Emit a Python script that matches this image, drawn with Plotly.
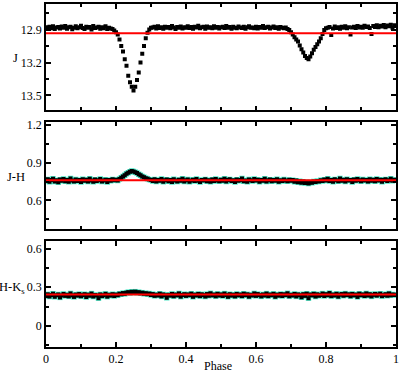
import plotly.graph_objects as go

# ---------------- data ----------------
phase = [
    0.000, 0.005, 0.010, 0.015, 0.020, 0.025, 0.030, 0.035, 0.040, 0.045,
    0.050, 0.055, 0.060, 0.065, 0.070, 0.075, 0.080, 0.085, 0.090, 0.095,
    0.100, 0.105, 0.110, 0.115, 0.120, 0.125, 0.130, 0.135, 0.140, 0.145,
    0.150, 0.155, 0.160, 0.165, 0.170, 0.175, 0.180, 0.185, 0.190, 0.195,
    0.200, 0.205, 0.210, 0.215, 0.220, 0.225, 0.230, 0.235, 0.240, 0.245,
    0.250, 0.255, 0.260, 0.265, 0.270, 0.275, 0.280, 0.285, 0.290, 0.295,
    0.300, 0.305, 0.310, 0.315, 0.320, 0.325, 0.330, 0.335, 0.340, 0.345,
    0.350, 0.355, 0.360, 0.365, 0.370, 0.375, 0.380, 0.385, 0.390, 0.395,
    0.400, 0.405, 0.410, 0.415, 0.420, 0.425, 0.430, 0.435, 0.440, 0.445,
    0.450, 0.455, 0.460, 0.465, 0.470, 0.475, 0.480, 0.485, 0.490, 0.495,
    0.500, 0.505, 0.510, 0.515, 0.520, 0.525, 0.530, 0.535, 0.540, 0.545,
    0.550, 0.555, 0.560, 0.565, 0.570, 0.575, 0.580, 0.585, 0.590, 0.595,
    0.600, 0.605, 0.610, 0.615, 0.620, 0.625, 0.630, 0.635, 0.640, 0.645,
    0.650, 0.655, 0.660, 0.665, 0.670, 0.675, 0.680, 0.685, 0.690, 0.695,
    0.700, 0.705, 0.710, 0.715, 0.720, 0.725, 0.730, 0.735, 0.740, 0.745,
    0.750, 0.755, 0.760, 0.765, 0.770, 0.775, 0.780, 0.785, 0.790, 0.795,
    0.800, 0.805, 0.810, 0.815, 0.820, 0.825, 0.830, 0.835, 0.840, 0.845,
    0.850, 0.855, 0.860, 0.865, 0.870, 0.875, 0.880, 0.885, 0.890, 0.895,
    0.900, 0.905, 0.910, 0.915, 0.920, 0.925, 0.930, 0.935, 0.940, 0.945,
    0.950, 0.955, 0.960, 0.965, 0.970, 0.975, 0.980, 0.985, 0.990, 0.995,
    1.000,
]

j_mag = [
    12.880, 12.892, 12.875, 12.888, 12.870, 12.895, 12.882, 12.878, 12.890, 12.872,
    12.885, 12.868, 12.893, 12.880, 12.876, 12.898, 12.884, 12.871, 12.889, 12.879,
    12.866, 12.887, 12.895, 12.874, 12.883, 12.878, 12.900, 12.869, 12.886, 12.881,
    12.874, 12.892, 12.879, 12.888, 12.870, 12.896, 12.883, 12.890, 12.895, 12.910,
    12.925, 12.945, 12.990, 13.050, 13.100, 13.170, 13.230, 13.320, 13.380, 13.420,
    13.455, 13.420, 13.360, 13.290, 13.200, 13.120, 13.050, 12.980, 12.930, 12.900,
    12.885, 12.882, 12.876, 12.890, 12.871, 12.886, 12.880, 12.893, 12.874, 12.884,
    12.878, 12.889, 12.868, 12.881, 12.895, 12.877, 12.885, 12.872, 12.890, 12.879,
    12.884, 12.870, 12.887, 12.878, 12.893, 12.875, 12.882, 12.866, 12.889, 12.880,
    12.876, 12.892, 12.873, 12.885, 12.879, 12.888, 12.870, 12.883, 12.877, 12.891,
    12.880, 12.874, 12.887, 12.869, 12.884, 12.878, 12.892, 12.875, 12.883, 12.889,
    12.872, 12.881, 12.886, 12.876, 12.893, 12.879, 12.870, 12.885, 12.882, 12.888,
    12.875, 12.891, 12.878, 12.884, 12.869, 12.887, 12.880, 12.876, 12.890, 12.882,
    12.873, 12.886, 12.879, 12.892, 12.877, 12.884, 12.888, 12.881, 12.895, 12.905,
    12.925, 12.945, 12.970, 12.990, 13.010, 13.045, 13.080, 13.110, 13.140, 13.160,
    13.170, 13.145, 13.115, 13.085, 13.060, 13.035, 13.010, 12.980, 12.940, 12.905,
    12.888, 12.884, 12.878, 12.950, 12.890, 12.873, 12.886, 12.880, 12.893, 12.876,
    12.884, 12.870, 12.889, 12.879, 12.945, 12.882, 12.874, 12.887, 12.868, 12.881,
    12.876, 12.884, 12.866, 12.878, 12.872, 12.886, 12.940, 12.869, 12.877, 12.862,
    12.880, 12.866, 12.873, 12.858, 12.879, 12.864, 12.870, 12.856, 12.885, 12.862,
    12.868,
]

j_h = [
    0.755, 0.768, 0.748, 0.762, 0.772, 0.751, 0.760, 0.745, 0.766, 0.757,
    0.770, 0.752, 0.763, 0.748, 0.775, 0.758, 0.750, 0.767, 0.755, 0.762,
    0.746, 0.769, 0.757, 0.764, 0.751, 0.773, 0.759, 0.748, 0.766, 0.754,
    0.761, 0.771, 0.750, 0.758, 0.765, 0.747, 0.762, 0.756, 0.768, 0.760,
    0.764, 0.759, 0.770, 0.780, 0.790, 0.800, 0.812, 0.820, 0.828, 0.834,
    0.830, 0.825, 0.818, 0.808, 0.800, 0.790, 0.784, 0.776, 0.772, 0.766,
    0.762, 0.754, 0.768, 0.750, 0.763, 0.757, 0.771, 0.749, 0.760, 0.766,
    0.753, 0.762, 0.747, 0.769, 0.758, 0.751, 0.764, 0.756, 0.772, 0.750,
    0.761, 0.767, 0.748, 0.759, 0.765, 0.754, 0.770, 0.757, 0.746, 0.763,
    0.758, 0.768, 0.752, 0.761, 0.749, 0.766, 0.755, 0.771, 0.759, 0.752,
    0.764, 0.757, 0.773, 0.750, 0.762, 0.768, 0.754, 0.760, 0.747, 0.766,
    0.756, 0.763, 0.775, 0.752, 0.759, 0.748, 0.767, 0.761, 0.754, 0.770,
    0.758, 0.765, 0.749, 0.762, 0.756, 0.772, 0.751, 0.760, 0.766, 0.753,
    0.763, 0.757, 0.769, 0.748, 0.761, 0.755, 0.767, 0.758, 0.752, 0.764,
    0.756, 0.762, 0.749, 0.758, 0.745, 0.753, 0.741, 0.750, 0.738, 0.746,
    0.735, 0.744, 0.740, 0.751, 0.746, 0.755, 0.750, 0.761, 0.754, 0.766,
    0.758, 0.772, 0.755, 0.763, 0.749, 0.768, 0.760, 0.753, 0.774, 0.757,
    0.764, 0.751, 0.769, 0.758, 0.762, 0.747, 0.766, 0.756, 0.771, 0.760,
    0.753, 0.767, 0.758, 0.763, 0.750, 0.769, 0.757, 0.764, 0.752, 0.770,
    0.759, 0.765, 0.748, 0.762, 0.768, 0.755, 0.761, 0.773, 0.757, 0.764,
    0.760,
]

h_ks = [
    0.232, 0.245, 0.228, 0.240, 0.250, 0.226, 0.238, 0.244, 0.221, 0.236,
    0.248, 0.233, 0.241, 0.229, 0.252, 0.237, 0.225, 0.243, 0.235, 0.247,
    0.230, 0.239, 0.246, 0.224, 0.242, 0.234, 0.251, 0.228, 0.240, 0.236,
    0.215, 0.244, 0.231, 0.238, 0.249, 0.227, 0.241, 0.235, 0.246, 0.232,
    0.243, 0.238, 0.250, 0.245, 0.255, 0.248, 0.258, 0.262, 0.255, 0.265,
    0.260, 0.266, 0.257, 0.262, 0.253, 0.258, 0.249, 0.254, 0.246, 0.251,
    0.240, 0.247, 0.233, 0.242, 0.236, 0.250, 0.229, 0.244, 0.238, 0.218,
    0.241, 0.235, 0.248, 0.230, 0.243, 0.237, 0.252, 0.227, 0.240, 0.246,
    0.233, 0.244, 0.238, 0.250, 0.226, 0.242, 0.236, 0.248, 0.231, 0.245,
    0.239, 0.228, 0.247, 0.234, 0.253, 0.237, 0.243, 0.230, 0.249, 0.236,
    0.244, 0.232, 0.251, 0.239, 0.226, 0.246, 0.235, 0.242, 0.229, 0.248,
    0.237, 0.243, 0.231, 0.250, 0.238, 0.245, 0.227, 0.241, 0.236, 0.252,
    0.233, 0.247, 0.239, 0.229, 0.244, 0.236, 0.251, 0.231, 0.243, 0.238,
    0.249, 0.226, 0.242, 0.235, 0.247, 0.232, 0.245, 0.239, 0.253, 0.230,
    0.241, 0.236, 0.248, 0.229, 0.244, 0.238, 0.222, 0.246, 0.233, 0.250,
    0.215, 0.243, 0.237, 0.249, 0.228, 0.245, 0.234, 0.240, 0.251, 0.232,
    0.246, 0.238, 0.255, 0.231, 0.243, 0.236, 0.249, 0.227, 0.242, 0.247,
    0.234, 0.251, 0.239, 0.245, 0.230, 0.248, 0.237, 0.243, 0.225, 0.250,
    0.238, 0.244, 0.232, 0.252, 0.236, 0.246, 0.229, 0.241, 0.248, 0.235,
    0.243, 0.250, 0.231, 0.239, 0.246, 0.234, 0.252, 0.237, 0.244, 0.240,
    0.241,
]

ref_x = [0, 1]
j_ref = 12.935
jh_ref = 0.760
hk_ref = 0.244

x_ticks = [0, 0.2, 0.4, 0.6, 0.8, 1]
x_tick_labels = ["0", "0.2", "0.4", "0.6", "0.8", "1"]
j_ticks = [12.9, 13.2, 13.5]
jh_ticks = [0.6, 0.9, 1.2]
hk_ticks = [0, 0.3, 0.6]

# ---------------- styles ----------------
FONT = "Times New Roman, Liberation Serif, Times, serif"
CYAN = "#4de6c6"
RED = "#ff0000"

fig = go.Figure()

# J panel
fig.add_trace(go.Scatter(x=phase, y=j_mag, mode="markers", xaxis="x", yaxis="y",
                         marker=dict(symbol="square", size=4.0, color="black"),
                         showlegend=False, hoverinfo="skip"))
fig.add_trace(go.Scatter(x=ref_x, y=[j_ref, j_ref], mode="lines", xaxis="x", yaxis="y",
                         line=dict(color=RED, width=2), showlegend=False))

# J-H panel
fig.add_trace(go.Scatter(x=phase, y=j_h, mode="markers", xaxis="x2", yaxis="y2",
                         marker=dict(symbol="square", size=5.4, color=CYAN),
                         showlegend=False, hoverinfo="skip"))
fig.add_trace(go.Scatter(x=phase, y=j_h, mode="markers", xaxis="x2", yaxis="y2",
                         marker=dict(symbol="square", size=4.0, color="black"),
                         showlegend=False, hoverinfo="skip"))
fig.add_trace(go.Scatter(x=ref_x, y=[jh_ref, jh_ref], mode="lines", xaxis="x2", yaxis="y2",
                         line=dict(color=RED, width=2), showlegend=False))

# H-Ks panel
fig.add_trace(go.Scatter(x=phase, y=h_ks, mode="markers", xaxis="x3", yaxis="y3",
                         marker=dict(symbol="square", size=5.4, color=CYAN),
                         showlegend=False, hoverinfo="skip"))
fig.add_trace(go.Scatter(x=phase, y=h_ks, mode="markers", xaxis="x3", yaxis="y3",
                         marker=dict(symbol="square", size=4.0, color="black"),
                         showlegend=False, hoverinfo="skip"))
fig.add_trace(go.Scatter(x=ref_x, y=[hk_ref, hk_ref], mode="lines", xaxis="x3", yaxis="y3",
                         line=dict(color=RED, width=2), showlegend=False))

common_axis = dict(
    showline=True, linecolor="black", linewidth=1.5, mirror="allticks",
    ticks="inside", ticklen=5, tickwidth=1.5, tickcolor="black",
    showgrid=False, zeroline=False,
    tickfont=dict(family=FONT, size=12, color="black"),
)

def xaxis(anchor, show_labels):
    return dict(
        common_axis, range=[0, 1], anchor=anchor, domain=[0, 1],
        tickvals=x_ticks, ticktext=x_tick_labels, showticklabels=show_labels,
        minor=dict(dtick=0.1, tick0=0, ticks="inside", ticklen=3.5,
                   tickwidth=1.5, tickcolor="black"),
    )

def yaxis(anchor, domain, rng, vals, minor_step, minor_start):
    return dict(
        common_axis, range=rng, anchor=anchor, domain=domain,
        tickvals=vals, ticktext=[f"{v:g}" for v in vals],
        minor=dict(dtick=minor_step, tick0=minor_start, ticks="inside", ticklen=3.5,
                   tickwidth=1.5, tickcolor="black"),
    )

fig.update_layout(
    width=400, height=373,
    margin=dict(l=46, r=3, t=1, b=26, pad=0),
    paper_bgcolor="white", plot_bgcolor="white",
    font=dict(family=FONT, size=12, color="black"),
    xaxis=xaxis("y", False),
    xaxis2=xaxis("y2", False),
    xaxis3=xaxis("y3", True),
    yaxis=yaxis("x", [0.690, 1.0], [13.635, 12.668], j_ticks, 0.15, 12.9),
    yaxis2=yaxis("x2", [0.343, 0.657], [0.369, 1.228], jh_ticks, 0.15, 0.6),
    yaxis3=yaxis("x3", [0.0, 0.309], [-0.165, 0.66], hk_ticks, 0.15, 0),
    annotations=[
        dict(text="J", x=-0.088, y=0.844, xref="paper", yref="paper",
             xanchor="center", yanchor="middle", showarrow=False,
             font=dict(family=FONT, size=12.5, color="black")),
        dict(text="J-H", x=-0.087, y=0.497, xref="paper", yref="paper",
             xanchor="center", yanchor="middle", showarrow=False,
             font=dict(family=FONT, size=12.5, color="black")),
        dict(text="H-K<sub>s</sub>", x=-0.097, y=0.173, xref="paper", yref="paper",
             xanchor="center", yanchor="middle", showarrow=False,
             font=dict(family=FONT, size=12.5, color="black")),
        dict(text="Phase", x=0.49, y=-0.056, xref="paper", yref="paper",
             xanchor="center", yanchor="middle", showarrow=False,
             font=dict(family=FONT, size=12, color="black")),
    ],
)

fig.write_html("out.html")
